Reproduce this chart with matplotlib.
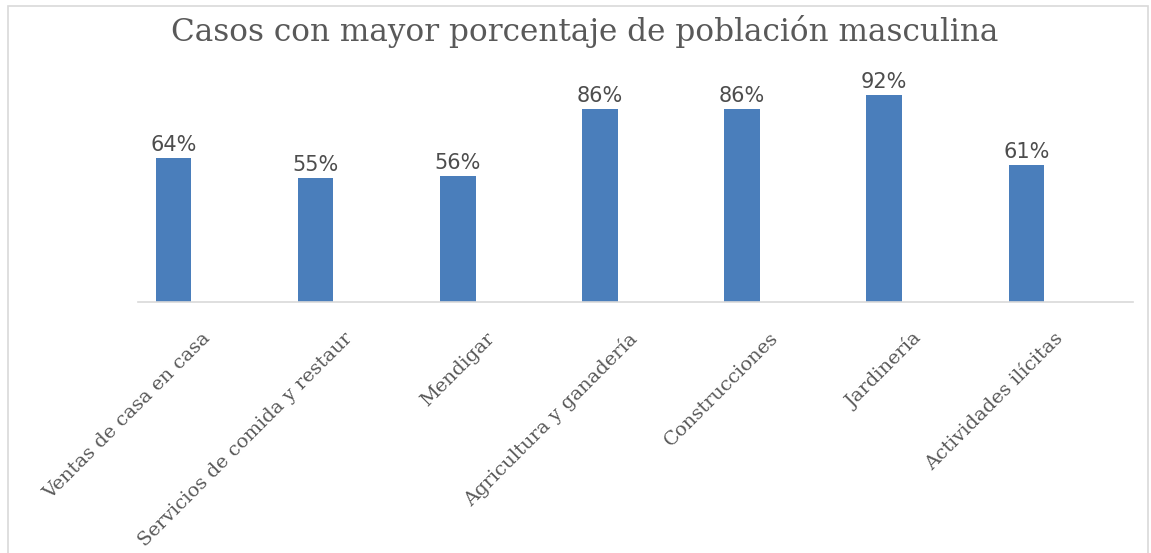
import matplotlib
matplotlib.use("Agg")
import matplotlib.pyplot as plt
from matplotlib.patches import Rectangle
from matplotlib.transforms import ScaledTranslation

# datos del gráfico
categorias = [
    "Ventas de casa en casa",
    "Servicios de comida y restaur",
    "Mendigar",
    "Agricultura y ganadería",
    "Construcciones",
    "Jardinería",
    "Actividades ilícitas",
]
porcentajes = [64, 55, 56, 86, 86, 92, 61]
titulo = "Casos con mayor porcentaje de población masculina"

W, H = 1151, 553
fig = plt.figure(figsize=(W / 100, H / 100), dpi=100)

# marco gris claro alrededor del gráfico
fig.patches.append(Rectangle((8 / W, -0.1), (1148 - 8) / W, 1.1 - 6 / H,
                             transform=fig.transFigure, fill=False,
                             edgecolor="#d9d9d9", linewidth=1.2))

ax = fig.add_axes([138 / W, 1 - 302 / H, (1133 - 138) / W, (302 - 77) / H])
x = list(range(len(categorias)))
# barras desplazadas a la izquierda (como una serie de un grupo de dos)
xb = [i - 0.25 for i in x]
bars = ax.bar(xb, porcentajes, width=0.25, color="#4a7ebb")
ax.set_xlim(-0.5, len(categorias) - 0.5)
ax.set_ylim(0, 100)

for s in ["top", "right", "left"]:
    ax.spines[s].set_visible(False)
ax.spines["bottom"].set_color("#d9d9d9")
ax.spines["bottom"].set_linewidth(1.2)
ax.set_yticks([])
ax.tick_params(axis="x", length=0, pad=0)

ax.set_xticks(x, labels=categorias, rotation=45, ha="right",
              rotation_mode="anchor", fontsize=14, color="#595959",
              family="DejaVu Serif")
off = ScaledTranslation(-8 / 100, -27 / 100, fig.dpi_scale_trans)
for lab in ax.get_xticklabels():
    lab.set_transform(lab.get_transform() + off)

# etiquetas de datos
for b, v in zip(bars, porcentajes):
    ax.annotate(f"{v}%", (b.get_x() + b.get_width() / 2, v),
                xytext=(0, 2), textcoords="offset points",
                ha="center", va="bottom", fontsize=15, color="#4d4d4d",
                family="DejaVu Sans")

fig.text(585 / W, 1 - 31 / H, titulo, ha="center", va="center",
         fontsize=22.4, color="#595959", family="DejaVu Serif")

fig.savefig("out.png", dpi=100)
